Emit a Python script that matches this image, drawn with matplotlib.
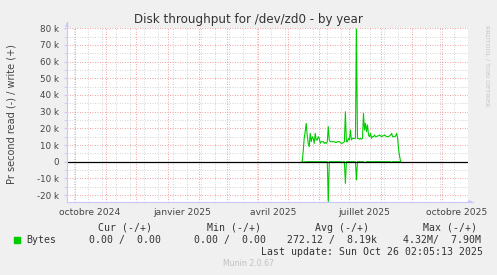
import matplotlib
matplotlib.use("Agg")
import matplotlib.pyplot as plt
import matplotlib.dates as mdates
import matplotlib.ticker as mticker
import numpy as np
import pandas as pd

# daily samples (bytes/s, k units), first sample 2025-05-15
start_day = "2025-05-15"
write_k = [0, 6, 14, 18, 23, 16, 11, 9, 17, 12, 15, 14, 11, 17, 13, 13, 15, 14, 11, 12,
           12, 12, 11, 11.5, 11, 12, 21, 13, 12, 12, 12, 12, 12, 11.5, 11.5, 12, 12, 12, 11.5, 11,
           11, 11.5, 12, 30, 12, 12, 14, 13, 19, 13, 14, 14, 14, 14, 79.5, 14, 14, 13.5, 14, 13.5,
           14, 29, 19, 23, 18, 22, 16, 15, 17, 14, 15, 15, 16, 15, 15, 15.5, 15.5, 16, 15.5, 15,
           15.5, 15.5, 16, 15.5, 15, 15, 15, 15.5, 16, 17, 15, 15, 15, 15.5, 17, 14, 7, 3, 0]
read_k = [0, -0.5, 0, -0.4, 0, 0, 0, 0, 0, 0, 0, 0, 0, 0, 0, 0, 0, 0, 0, 0,
          0, 0, 0, 0, 0, 0, -24, 0, 0, 0, 0, 0, 0, 0, 0, 0, 0, 0, 0, 0,
          -0.6, 0, 0, -13, 0, 0, 0, 0, 0, 0, 0, 0, 0, 0, -11, 0, 0, 0, 0, 0,
          0, 0, -0.5, -0.5, 0, 0, 0, 0, 0, 0, 0, 0, 0, 0, 0, 0, 0, 0, 0, 0,
          0, 0, 0, 0, 0, 0, 0, 0, 0, -0.5, 0, 0, 0, 0, 0, 0, 0, 0, 0]

y_ticks = [-20000, -10000, 0, 10000, 20000, 30000, 40000, 50000, 60000, 70000, 80000]
y_labels = ["-20 k", "-10 k", "0", "10 k", "20 k", "30 k", "40 k", "50 k", "60 k", "70 k", "80 k"]
month_labels = ["octobre 2024", "janvier 2025", "avril 2025", "juillet 2025", "octobre 2025"]
label_months = ["2024-10-01", "2025-01-01", "2025-04-01", "2025-07-01", "2025-10-01"]

legend_cols = ["Cur (-/+)", "Min (-/+)", "Avg (-/+)", "Max (-/+)"]
legend_vals = ["0.00 /  0.00", "0.00 /  0.00", "272.12 /  8.19k", "4.32M/  7.90M"]

green = "#00CC00"
axis_col = "#C8C8FF"
W, H = 497, 275

fig = plt.figure(figsize=(W / 100, H / 100), dpi=100, facecolor="#F0F0F0")
ax = fig.add_axes([67 / W, 1 - 201.7 / H, 401 / W, (201.7 - 28.3) / H])
ax.set_facecolor("white")

days = pd.date_range(start_day, periods=len(write_k), freq="D")
ax.plot(days, np.array(write_k) * 1000, color=green, lw=0.8, zorder=3)
ax.plot(days, np.array(read_k) * 1000, color=green, lw=0.8, zorder=3)
ax.axhline(0, color="black", lw=0.9, zorder=4)

ax.set_xlim(pd.Timestamp("2024-09-23"), pd.Timestamp("2025-10-27"))
ax.set_ylim(-24000, 80000)

# grid: red at months / 10k, grey every other monday / 5k
ax.xaxis.set_major_locator(mdates.MonthLocator())
minor_x = mdates.date2num(pd.date_range("2024-09-30", "2025-10-27", freq="14D"))
ax.xaxis.set_minor_locator(mticker.FixedLocator(minor_x))
ax.set_yticks(y_ticks)
ax.set_yticks(np.arange(-20000, 80001, 5000), minor=True)
ax.grid(which="minor", color="#C4C4C4", ls=(0, (1, 2)), lw=0.6, zorder=1)
ax.grid(which="major", color="#F08080", ls=(0, (1, 2)), lw=0.6, zorder=2)
ax.set_xticklabels([])
ax.set_yticklabels(y_labels)
ax.tick_params(axis="x", which="both", length=0)
ax.tick_params(axis="y", which="both", length=2, color=axis_col, labelsize=6.3,
               labelcolor="#444444", pad=4)

for s in ["top", "right", "left", "bottom"]:
    ax.spines[s].set_visible(False)

# month labels centred in the middle of the month, like rrdtool
for lab, m in zip(month_labels, label_months):
    ax.text(pd.Timestamp(m) + pd.Timedelta(days=15), -0.06, lab, transform=ax.get_xaxis_transform(),
            ha="center", va="center", fontsize=6.6, color="#444444")

# axis arrows
fig.add_artist(plt.Line2D([67 / W, 67 / W], [1 - 201.7 / H, 1 - 22 / H], color=axis_col, lw=0.8))
fig.add_artist(plt.Line2D([67 / W, 473 / W], [1 - 201.7 / H, 1 - 201.7 / H], color=axis_col, lw=0.8))
ax.annotate("", xy=(67 / W, 1 - 20 / H), xytext=(67 / W, 1 - 27 / H), xycoords="figure fraction",
            arrowprops=dict(arrowstyle="-|>", color=axis_col, lw=0.5, mutation_scale=5))
ax.annotate("", xy=(475 / W, 1 - 201.7 / H), xytext=(468 / W, 1 - 201.7 / H), xycoords="figure fraction",
            arrowprops=dict(arrowstyle="-|>", color=axis_col, lw=0.5, mutation_scale=5))

fig.text(248 / W, 1 - 19 / H, "Disk throughput for /dev/zd0 - by year", ha="center", va="center",
         fontsize=8.6, color="#333333")
fig.text(12 / W, 1 - 114 / H, "Pr second read (-) / write (+)", rotation=90, ha="center", va="center",
         fontsize=7, color="#444444")
fig.text(487 / W, 1 - 66 / H, "RRDTOOL / TOBI OETIKER", rotation=270, ha="center", va="center",
         fontsize=4.6, color="#C4C4C4")

mono = dict(family="DejaVu Sans Mono", fontsize=7.1, color="#333333", va="center")
for x, t in zip([98.3, 206.7, 315, 422.7], legend_cols):
    fig.text(x / W, 1 - 228 / H, t, ha="left", **mono)
fig.add_artist(plt.Rectangle((14 / W, 1 - 242.7 / H), 6 / W, 6 / H, color=green, transform=fig.transFigure))
fig.text(26 / W, 1 - 240 / H, "Bytes", ha="left", **mono)
for x, t in zip([89.3, 194.3, 287.3, 402.7], legend_vals):
    fig.text(x / W, 1 - 240 / H, t, ha="left", **mono)
fig.text(483 / W, 1 - 252 / H, "Last update: Sun Oct 26 02:05:13 2025", ha="right", **mono)
fig.text(248 / W, 1 - 264 / H, "Munin 2.0.67", ha="center", va="center", fontsize=5.6, color="#C0C0C0")

fig.savefig("out.png", dpi=100, facecolor=fig.get_facecolor())
